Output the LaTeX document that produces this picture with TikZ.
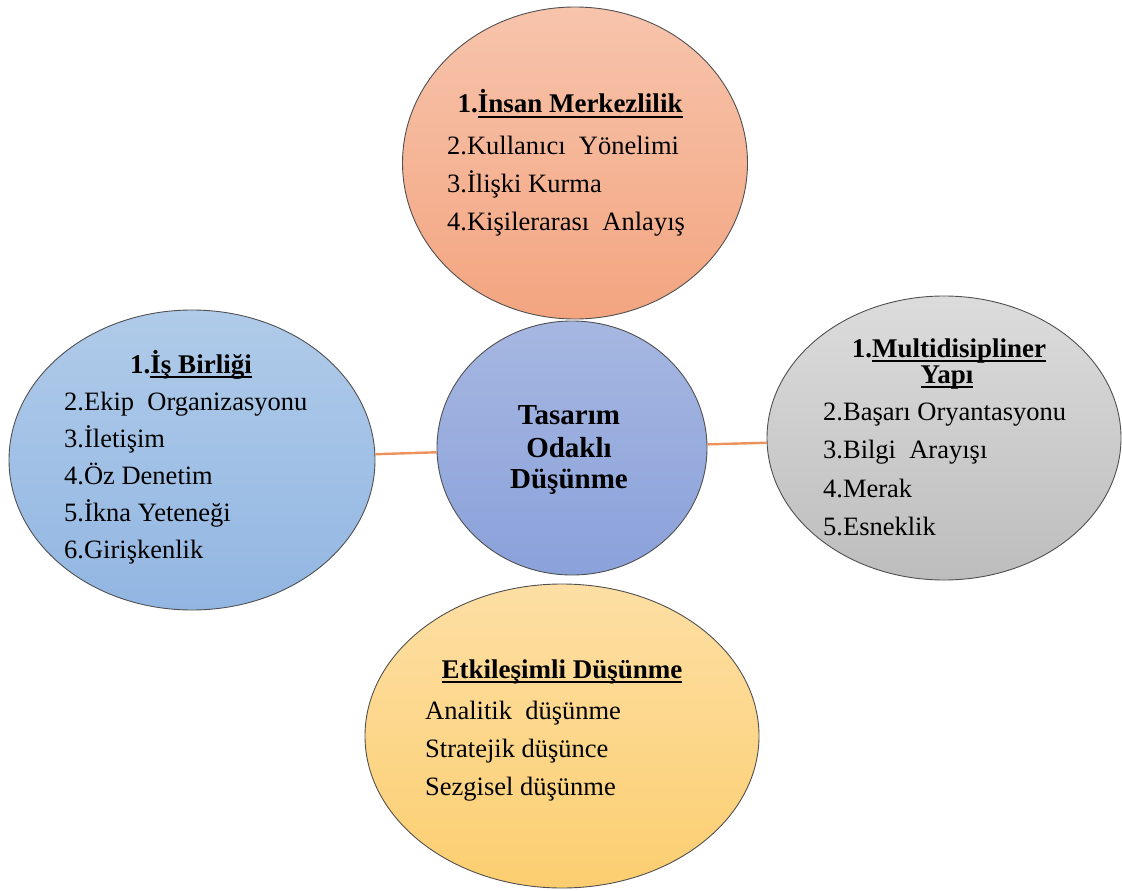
\documentclass[tikz,border=0pt]{standalone}
\usepackage{fontspec}
\setmainfont{Liberation Serif}
\usetikzlibrary{shapes.geometric}
\newsavebox\ulbox
\newcommand\myul[1]{\sbox\ulbox{#1}\rlap{\rule[-4.5pt]{\wd\ulbox}{1.8pt}}\usebox\ulbox}
\definecolor{lineor}{RGB}{238,146,92}
\definecolor{edgegr}{RGB}{80,80,80}
\definecolor{topA}{RGB}{247,196,172}\definecolor{topB}{RGB}{243,165,128}
\definecolor{cenA}{RGB}{166,183,225}\definecolor{cenB}{RGB}{138,161,218}
\definecolor{lefA}{RGB}{176,203,233}\definecolor{lefB}{RGB}{146,182,226}
\definecolor{rigA}{RGB}{220,220,220}\definecolor{rigB}{RGB}{189,189,189}
\definecolor{botA}{RGB}{253,223,164}\definecolor{botB}{RGB}{252,206,112}
\begin{document}
\begin{tikzpicture}[x=1pt,y=-1pt,
  blob/.style={shape=ellipse, draw=edgegr, line width=0.9pt, inner sep=0pt},
  conn/.style={draw=lineor, line width=2.4pt},
  body/.style={font=\fontsize{26.5}{32}\selectfont, inner sep=0pt, anchor=base west},
  head/.style={font=\bfseries\fontsize{27}{32}\selectfont, inner sep=0pt, anchor=base},
  ctext/.style={font=\bfseries\fontsize{29}{32}\selectfont, inner sep=0pt, anchor=base}]
\useasboundingbox (0,0) rectangle (1122,891);
% ellipses
\node[blob, minimum width=345pt, minimum height=312pt, top color=topA, bottom color=topB] (T) at (575,163) {};
\node[blob, minimum width=366pt, minimum height=300pt, top color=lefA, bottom color=lefB] (L) at (192,460) {};
\node[blob, minimum width=354pt, minimum height=284pt, top color=rigA, bottom color=rigB] (R) at (944,438) {};
\node[blob, minimum width=394pt, minimum height=304pt, top color=botA, bottom color=botB] (B) at (562,736) {};
\node[blob, minimum width=270pt, minimum height=254pt, top color=cenA, bottom color=cenB] (C) at (572,448) {};
% connectors
\draw[conn] (L) -- (C);
\draw[conn] (C) -- (R);
% centre text
\node[ctext] (c1) at (569,424) {Tasarım};
\node[ctext] (c2) at (569,457) {Odaklı};
\node[ctext] (c3) at (569,488) {Düşünme};
% top
\node[head] (th) at (570,113) {1.\myul{İnsan Merkezlilik}};
\foreach \t [count=\i] in {2.Kullanıcı~\ Yönelimi, 3.İlişki Kurma, 4.Kişilerarası~\ Anlayış}
  \node[body] (tb\i) at (447,{154+38*(\i-1)}) {\t};
% left
\node[head] (lh) at (191,373) {1.\myul{İş Birliği}};
\foreach \t [count=\i] in {2.Ekip~\ Organizasyonu, 3.İletişim, 4.Öz Denetim, 5.İkna Yeteneği, 6.Girişkenlik}
  \node[body] (lb\i) at (64,{410+37*(\i-1)}) {\t};
% right
\node[head] (rh1) at (949,357) {1.\myul{Multidisipliner}};
\node[head] (rh2) at (947,383) {\myul{Yapı}};
\foreach \t [count=\i] in {2.Başarı Oryantasyonu, 3.Bilgi~\ Arayışı, 4.Merak, 5.Esneklik}
  \node[body] (rb\i) at (823,{420+38.5*(\i-1)}) {\t};
% bottom
\node[head] (bh) at (562,678) {\myul{Etkileşimli Düşünme}};
\foreach \t [count=\i] in {Analitik~\ düşünme, Stratejik düşünce, Sezgisel düşünme}
  \node[body] (bb\i) at (425,{719+38*(\i-1)}) {\t};
\end{tikzpicture}
\end{document}
